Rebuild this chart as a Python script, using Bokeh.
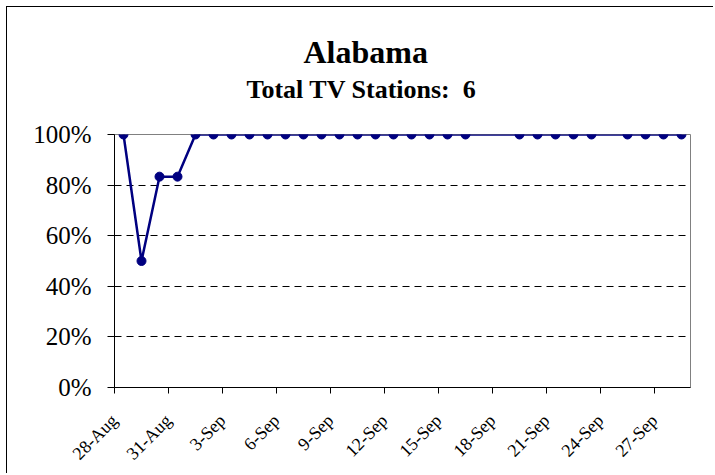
import pandas as pd
from bokeh.plotting import figure
from bokeh.models import FixedTicker, NumeralTickFormatter, Range1d, Title
from bokeh.embed import file_html
from bokeh.resources import INLINE

# ---- data ----
state = "Alabama"
total_stations = 6
year = 2005
report_dates = (["28-Aug", "29-Aug", "30-Aug", "31-Aug"]
                + [f"{d}-Sep" for d in range(1, 17)]
                + [f"{d}-Sep" for d in range(19, 24)]
                + [f"{d}-Sep" for d in range(25, 29)])
stations_up = [6, 3, 5, 5] + [6] * 16 + [6] * 5 + [6] * 4
tick_labels = ["28-Aug", "31-Aug", "3-Sep", "6-Sep", "9-Sep", "12-Sep",
               "15-Sep", "18-Sep", "21-Sep", "24-Sep", "27-Sep"]
y_ticks = [0, 0.2, 0.4, 0.6, 0.8, 1.0]
axis_start = "28-Aug"
axis_end = "29-Sep"


def to_date(s):
    return pd.to_datetime(f"{s}-{year}", format="%d-%b-%Y")


t0 = to_date(axis_start)
x_days = [(to_date(d) - t0).days + 0.5 for d in report_dates]   # centred in the day
share = [u / total_stations for u in stations_up]
tick_pos = [(to_date(t) - t0).days for t in tick_labels]
x_end = (to_date(axis_end) - t0).days

SERIF = "Liberation Serif"
NAVY = "#000080"

p = figure(width=707, height=467, output_backend="svg", toolbar_location=None,
           title=None,
           x_range=Range1d(0, x_end), y_range=Range1d(0, 1),
           min_border_left=107, min_border_right=24,
           min_border_top=127, min_border_bottom=87,
           background_fill_color="white", border_fill_color="white",
           outline_line_color="#808080", outline_line_width=1,
           styles={"margin-left": "6px", "margin-top": "6px",
                   "border-left": "1px solid #000", "border-top": "1px solid #000"})

# axes
p.xaxis.ticker = FixedTicker(ticks=tick_pos)
p.xaxis.major_label_overrides = {pos: lab for pos, lab in zip(tick_pos, tick_labels)}
p.xaxis.major_label_orientation = 0.785398
p.xaxis.major_label_text_font = SERIF
p.xaxis.major_label_text_font_size = "18px"
p.xaxis.major_label_text_color = "black"
p.xaxis.major_label_standoff = 24
p.xaxis.major_tick_out = 6
p.xaxis.major_tick_in = 0
p.xaxis.minor_tick_out = 0
p.xaxis.minor_tick_in = 0
p.xaxis.axis_line_color = "black"
p.xaxis.major_tick_line_color = "black"

p.yaxis.ticker = FixedTicker(ticks=y_ticks)
p.yaxis.formatter = NumeralTickFormatter(format="0%")
p.yaxis.major_label_text_font = SERIF
p.yaxis.major_label_text_font_size = "25px"
p.yaxis.major_label_text_color = "black"
p.yaxis.major_label_standoff = 16
p.yaxis.major_tick_out = 7
p.yaxis.major_tick_in = 0
p.yaxis.minor_tick_out = 0
p.yaxis.minor_tick_in = 0
p.yaxis.axis_line_color = "black"
p.yaxis.major_tick_line_color = "black"

p.xgrid.grid_line_color = None
p.ygrid.grid_line_color = "black"
p.ygrid.grid_line_dash = "7 5"
p.ygrid.grid_line_width = 1

# series
p.line(x_days, share, line_color=NAVY, line_width=2.5)
p.scatter(x_days, share, size=9, fill_color=NAVY, line_color=NAVY)

# titles, centred on the whole chart (offset from the plot-area's left edge)
p.add_layout(Title(text=f"Total TV Stations:\u00a0 {total_stations}", align="left", offset=132,
                   text_font=SERIF, text_font_style="bold", text_font_size="26px",
                   text_color="black", standoff=62), "above")
p.add_layout(Title(text=state, align="left", offset=189,
                   text_font=SERIF, text_font_style="bold", text_font_size="32px",
                   text_color="black", standoff=-56), "above")

open("out.html", "w").write(file_html(p, INLINE))
